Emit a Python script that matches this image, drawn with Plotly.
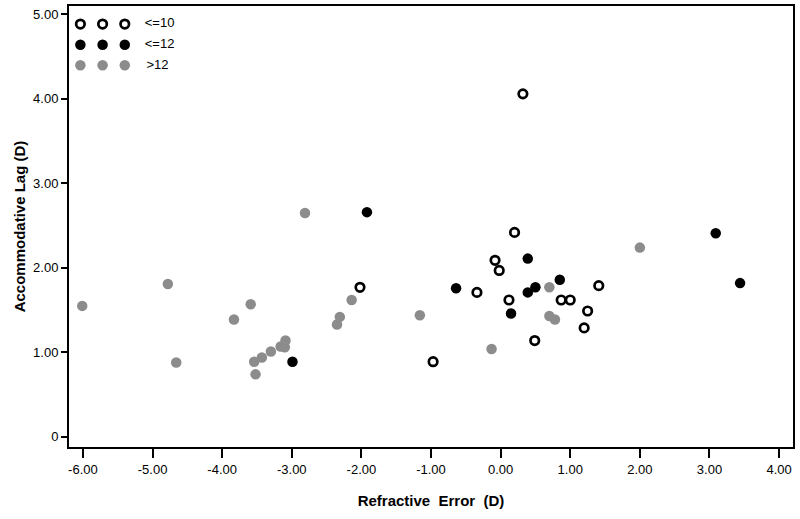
import plotly.graph_objects as go

# ---- data ----
open_x = [-2.02, -0.97, -0.34, -0.08, -0.02, 0.12, 0.20, 0.32, 0.49, 0.87, 1.00, 1.20, 1.25, 1.41]
open_y = [1.77, 0.89, 1.71, 2.09, 1.97, 1.62, 2.42, 4.06, 1.14, 1.62, 1.62, 1.29, 1.49, 1.79]

black_x = [-2.99, -1.92, -0.64, 0.15, 0.39, 0.39, 0.50, 0.85, 3.09, 3.44]
black_y = [0.89, 2.66, 1.76, 1.46, 2.11, 1.71, 1.77, 1.86, 2.41, 1.82]

gray_x = [-6.01, -4.78, -4.66, -3.83, -3.59, -3.54, -3.52, -3.43, -3.30, -3.16, -3.09, -3.10,
          -2.81, -2.35, -2.31, -2.14, -1.16, -0.13, 0.70, 0.70, 0.78, 2.00]
gray_y = [1.55, 1.81, 0.88, 1.39, 1.57, 0.89, 0.74, 0.94, 1.01, 1.07, 1.14, 1.06,
          2.65, 1.33, 1.42, 1.62, 1.44, 1.04, 1.77, 1.43, 1.39, 2.24]

legend_labels = ["<=10", "<=12", ">12"]

x_tickvals = [-6, -5, -4, -3, -2, -1, 0, 1, 2, 3, 4]
x_ticktext = ["-6.00", "-5.00", "-4.00", "-3.00", "-2.00", "-1.00", "0.00", "1.00", "2.00", "3.00", "4.00"]
y_tickvals = [0, 1, 2, 3, 4, 5]
y_ticktext = ["0", "1.00", "2.00", "3.00", "4.00", "5.00"]

GRAY = "#8c8c8c"
FONT = "Liberation Sans, Arial, sans-serif"

open_marker = dict(symbol="circle", size=8.5, color="white", line=dict(color="black", width=2.7))
black_marker = dict(symbol="circle", size=10.5, color="black", line=dict(width=0))
gray_marker = dict(symbol="circle", size=10.5, color=GRAY, line=dict(width=0))
markers = [open_marker, black_marker, gray_marker]

fig = go.Figure()
fig.add_trace(go.Scatter(x=gray_x, y=gray_y, mode="markers", marker=gray_marker, name=">12"))
fig.add_trace(go.Scatter(x=black_x, y=black_y, mode="markers", marker=black_marker, name="<=12"))
fig.add_trace(go.Scatter(x=open_x, y=open_y, mode="markers", marker=open_marker, name="<=10"))

# custom legend (three symbols per entry) on a small overlay axis pair
for row, (lab, mk) in enumerate(zip(legend_labels, markers)):
    fig.add_trace(go.Scatter(x=[0, 1, 2], y=[row] * 3, mode="markers", marker=mk,
                             xaxis="x2", yaxis="y2", hoverinfo="skip"))
    fig.add_trace(go.Scatter(x=[2.9 + (0.08 if lab.startswith(">") else 0)], y=[row], mode="text",
                             text=[lab], textposition="middle right",
                             textfont=dict(family=FONT, size=13, color="black"),
                             xaxis="x2", yaxis="y2", hoverinfo="skip"))

fig.update_layout(
    width=800, height=519,
    margin=dict(l=69, r=7, t=6, b=72),
    paper_bgcolor="white", plot_bgcolor="white",
    showlegend=False,
    font=dict(family=FONT, size=13, color="black"),
    xaxis=dict(range=[-6.2, 4.2], tickvals=x_tickvals, ticktext=x_ticktext, automargin=False,
               showgrid=False, zeroline=False, showline=True, mirror=True,
               linecolor="black", linewidth=2, ticks="outside", ticklen=9, tickwidth=2,
               tickcolor="black", tickfont=dict(size=13),
               title=dict(text="<b>Refractive  Error  (D)</b>", font=dict(size=15), standoff=20)),
    yaxis=dict(range=[-0.12, 5.1], tickvals=y_tickvals, ticktext=y_ticktext, automargin=False,
               showgrid=False, zeroline=False, showline=True, mirror=True,
               linecolor="black", linewidth=2, ticks="outside", ticklen=6, tickwidth=2,
               tickcolor="black", tickfont=dict(size=13),
               title=dict(text="<b>Accommodative Lag (D)</b>", font=dict(size=15), standoff=4)),
    xaxis2=dict(domain=[0, 0.2], range=[-0.513, 6.01], anchor="y2", visible=False, fixedrange=True),
    yaxis2=dict(domain=[0.8, 1], range=[3.40, -0.874], anchor="x2", visible=False, fixedrange=True),
)

fig.write_html("out.html", config={"displayModeBar": False},
               post_script="document.body.style.margin='0';document.body.style.padding='0';")
